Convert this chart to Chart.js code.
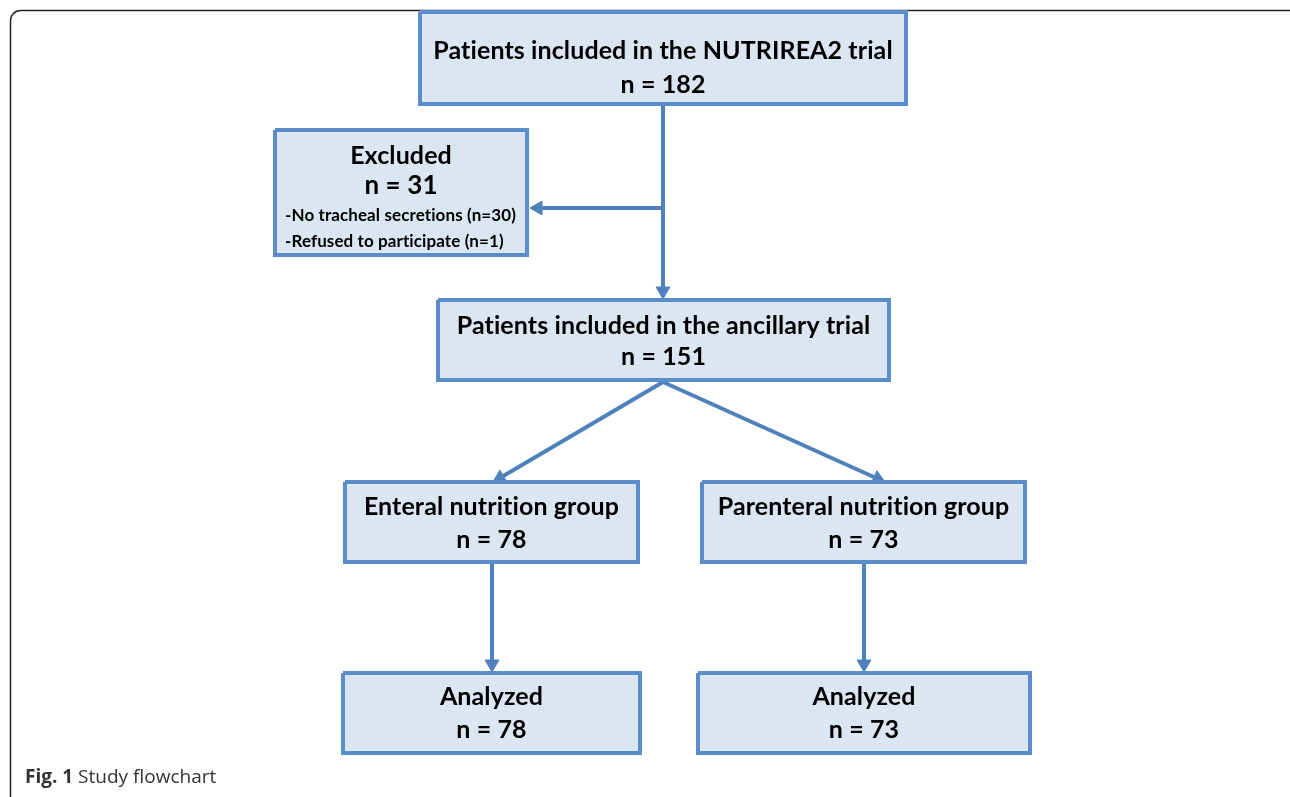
<!DOCTYPE html>
<html>
<head>
<meta charset="utf-8">
<script src="https://cdn.jsdelivr.net/npm/chart.js@4.4.1/dist/chart.umd.min.js"></script>
<style>
  body { margin: 0; background: #fff; }
  canvas { display: block; }
</style>
</head>
<body>
<canvas id="flow" width="1290" height="797"></canvas>
<script>
// flowchart content
const boxTitles = [
  'Patients included in the NUTRIREA2 trial',
  'Excluded',
  'Patients included in the ancillary trial',
  'Enteral nutrition group',
  'Parenteral nutrition group',
  'Analyzed',
  'Analyzed'
];
const boxCounts = [182, 31, 151, 78, 73, 78, 73];
const excludedReasons = ['-No tracheal secretions (n=30)', '-Refused to participate (n=1)'];
const captionBold = 'Fig. 1';
const captionText = 'Study flowchart';

// layout (pixel space, y grows downward)
const boxRects = [
  [420, 12, 906, 104],
  [275, 130, 527, 255],
  [438, 300, 889, 380],
  [345, 482, 638, 562],
  [702, 482, 1025, 562],
  [343, 673, 640, 753],
  [698, 673, 1030, 753]
];
const titleY = [51, 156, 326, 507, 507, 697, 697];
const countY = [85, 186, 357, 540, 540, 730, 730];

// arrows: [from, tip]
const arrows = [
  [[663, 104], [663, 299]],
  [[663, 208], [530, 208]],
  [[663, 382], [493, 482]],
  [[663, 382], [885, 482]],
  [[492, 562], [492, 672]],
  [[864, 562], [864, 672]]
];

const lineBlue = '#4f81bd';
const boxBorder = '#5b8dcb';
const boxFill = '#dce6f2';
const headR = 8;

const datasets = [];

boxRects.forEach(r => {
  datasets.push({
    data: [
      {x: r[0], y: r[1]}, {x: r[2], y: r[1]}, {x: r[2], y: r[3]}, {x: r[0], y: r[3]}, {x: r[0], y: r[1]}
    ],
    showLine: true,
    borderColor: boxBorder,
    borderWidth: 4,
    backgroundColor: boxFill,
    fill: 'shape',
    pointRadius: 0,
    borderJoinStyle: 'miter',
    tension: 0
  });
});

arrows.forEach(a => {
  const dx = a[1][0] - a[0][0];
  const dy = a[1][1] - a[0][1];
  const len = Math.sqrt(dx * dx + dy * dy);
  // pull the end back so the triangle tip lands on the target
  const ex = a[1][0] - dx / len * headR;
  const ey = a[1][1] - dy / len * headR;
  const rot = Math.atan2(dx, -dy) * 180 / Math.PI;
  datasets.push({
    data: [{x: a[0][0], y: a[0][1]}, {x: ex, y: ey}],
    showLine: true,
    borderColor: lineBlue,
    borderWidth: 4,
    pointRadius: [0, headR],
    pointStyle: 'triangle',
    rotation: [0, rot],
    pointBackgroundColor: lineBlue,
    pointBorderColor: lineBlue,
    pointBorderWidth: 1,
    fill: false
  });
});

const framePlugin = {
  id: 'frame',
  beforeDraw(chart) {
    const ctx = chart.ctx;
    ctx.save();
    ctx.fillStyle = '#fff';
    ctx.fillRect(0, 0, chart.width, chart.height);
    ctx.strokeStyle = '#222';
    ctx.lineWidth = 1.5;
    ctx.beginPath();
    ctx.roundRect(10.5, 10.5, 1290, 820, 10);
    ctx.stroke();
    ctx.restore();
  }
};

const textPlugin = {
  id: 'texts',
  afterDatasetsDraw(chart) {
    const ctx = chart.ctx;
    const sx = chart.scales.x, sy = chart.scales.y;
    ctx.save();
    ctx.letterSpacing = '0.1px'; // keeps "ti" from turning into a ligature
    ctx.fillStyle = '#000';
    ctx.textAlign = 'center';
    ctx.textBaseline = 'middle';
    boxRects.forEach((r, i) => {
      const cx = sx.getPixelForValue((r[0] + r[2]) / 2);
      ctx.font = 'bold 25px Lato';
      ctx.fillText(boxTitles[i], cx, sy.getPixelForValue(titleY[i]));
      ctx.font = i === 1 ? 'bold 26px Lato' : 'bold 25px Lato';
      ctx.fillText('n = ' + boxCounts[i], cx, sy.getPixelForValue(countY[i]));
    });
    ctx.textAlign = 'left';
    ctx.font = 'bold 17px Lato';
    excludedReasons.forEach((t, i) => {
      ctx.fillText(t, sx.getPixelForValue(285), sy.getPixelForValue(216 + i * 26));
    });
    // caption
    ctx.letterSpacing = '0px';
    ctx.fillStyle = '#333';
    ctx.font = 'bold 19px "Open Sans"';
    const capY = sy.getPixelForValue(778);
    ctx.fillText(captionBold, 25, capY);
    const w = ctx.measureText(captionBold + ' ').width;
    ctx.font = '19px "Open Sans"';
    ctx.fillText(captionText, 25 + w, capY);
    ctx.restore();
  }
};

new Chart(document.getElementById('flow'), {
  type: 'scatter',
  data: { datasets },
  options: {
    responsive: false,
    animation: false,
    layout: { padding: 0, autoPadding: false },
    plugins: { legend: { display: false }, tooltip: { enabled: false } },
    scales: {
      x: { type: 'linear', min: 0, max: 1290, display: false },
      y: { type: 'linear', min: 0, max: 797, reverse: true, display: false }
    }
  },
  plugins: [framePlugin, textPlugin]
});
</script>
</body>
</html>
